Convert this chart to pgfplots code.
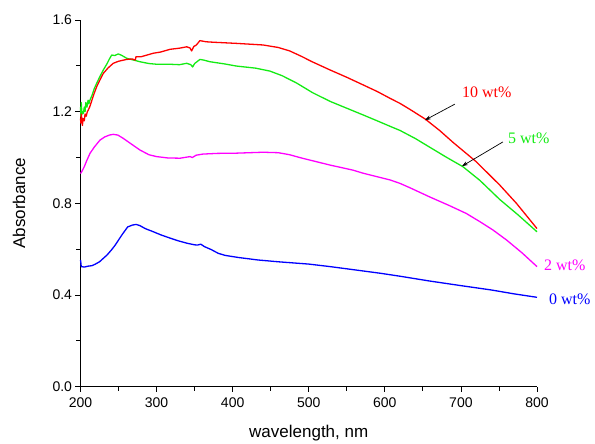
\documentclass[border=0pt]{standalone}
\usepackage{pgfplots}
\pgfplotsset{compat=1.18}
\usepackage{fontspec}
\setmainfont{Liberation Sans}
\newfontfamily\seriffont{Liberation Serif}
\usetikzlibrary{arrows.meta}
\definecolor{cgreen}{RGB}{20,235,20}
\definecolor{cmag}{RGB}{255,0,255}
\definecolor{cred}{RGB}{255,0,0}
\definecolor{cblue}{RGB}{0,0,255}
\begin{document}
\begin{tikzpicture}
\path[use as bounding box] (-80.5pt,-57.3pt) rectangle (514.5pt,386.7pt);
\begin{axis}[
  at={(0pt,0pt)}, anchor=south west,
  scale only axis, width=456.5pt, height=366.7pt,
  xmin=200, xmax=800, ymin=0, ymax=1.6,
  axis x line*=bottom, axis y line*=left,
  xtick={200,300,400,500,600,700,800}, minor x tick num=1,
  ytick={0,0.4,0.8,1.2,1.6}, minor y tick num=1,
  tick align=outside, major tick length=5pt, minor tick length=4pt,
  tick style={black, line width=0.8pt},
  axis line style={black, line width=0.9pt},
  /pgf/number format/assume math mode=true,
  yticklabel style={/pgf/number format/.cd, fixed, fixed zerofill, precision=1},
  tick label style={font=\fontsize{14}{16}\selectfont},
  xticklabel style={yshift=-2pt},
  xlabel={wavelength, nm}, ylabel={Absorbance},
  every axis x label/.style={at={([yshift=-46pt]axis description cs:0.5,0)}, anchor=center, font=\fontsize{17}{20}\selectfont},
  every axis y label/.style={at={([xshift=-61.5pt]axis description cs:0,0.5)}, anchor=center, rotate=90, font=\fontsize{17}{20}\selectfont},
  clip=false,
  every axis plot/.append style={line width=1.3pt, line join=round},
]
% 0 wt%
\addplot[cblue] coordinates {(200,0.553)(200.5,0.54)(201,0.524)(205,0.522)(210,0.526)(215,0.528)(219,0.534)(225,0.545)(230,0.56)(235,0.575)(240.5,0.596)(245,0.615)(250,0.64)(255,0.665)(262,0.697)(268,0.705)(273,0.708)(278,0.703)(285,0.69)(295,0.677)(306,0.662)(318,0.648)(328,0.637)(340,0.626)(350,0.619)(354,0.618)(358,0.622)(363,0.611)(372,0.598)(381,0.582)(390,0.573)(407,0.564)(433,0.553)(460,0.545)(500,0.535)(528,0.524)(560,0.51)(594,0.495)(620,0.482)(659,0.461)(700,0.441)(740,0.422)(770,0.405)(800,0.390)};
% 2 wt%
\addplot[cmag] coordinates {(200,0.93)(201.6,0.938)(205,0.96)(208,0.985)(212.5,1.018)(218,1.045)(225.6,1.076)(232,1.09)(238,1.098)(243,1.101)(249,1.098)(256,1.084)(265,1.063)(278,1.033)(290,1.012)(300,1.004)(315,0.998)(331,0.997)(344,1.004)(347,1.0)(352,1.01)(361,1.015)(380,1.018)(405,1.019)(440,1.023)(460,1.021)(475,1.012)(488,1.0)(500,0.99)(528,0.967)(558,0.945)(572,0.931)(607,0.902)(620,0.887)(633,0.868)(659,0.828)(685,0.79)(707,0.756)(725,0.72)(742,0.684)(760,0.64)(780,0.585)(800,0.524)};
% 5 wt%
\addplot[cgreen] coordinates {(200,1.22)(200.5,1.18)(201,1.24)(201.6,1.207)(202.5,1.19)(203.7,1.193)(205,1.22)(206,1.2)(207,1.24)(208.5,1.22)(210,1.25)(211,1.235)(212.5,1.251)(215,1.27)(218,1.30)(221.3,1.324)(225,1.35)(230,1.382)(235,1.41)(238,1.43)(241,1.447)(245,1.445)(249.7,1.452)(254,1.446)(260.7,1.433)(270,1.425)(278,1.418)(290,1.41)(300,1.407)(317,1.407)(330,1.405)(339.6,1.411)(345,1.405)(347.4,1.395)(350,1.41)(357,1.428)(362,1.425)(370,1.418)(390,1.408)(405,1.399)(430,1.39)(449,1.377)(465,1.357)(484,1.325)(505,1.283)(528,1.245)(550,1.215)(572,1.185)(590,1.16)(607,1.136)(620,1.118)(640,1.083)(659,1.045)(680,1.003)(702.6,0.96)(725,0.9)(751,0.817)(775,0.75)(800,0.676)};
% 10 wt%
\addplot[cred] coordinates {(200,1.17)(200.5,1.15)(201,1.19)(201.6,1.171)(202.5,1.14)(203.5,1.17)(205,1.16)(206,1.19)(207.5,1.18)(209,1.2)(210.2,1.207)(212,1.22)(215,1.25)(218,1.28)(221.3,1.309)(225,1.335)(230,1.367)(236,1.39)(243,1.411)(250,1.42)(260.7,1.428)(268,1.43)(272,1.425)(273,1.44)(280,1.44)(295.7,1.455)(305,1.46)(317.6,1.472)(330,1.477)(339.6,1.483)(344,1.478)(346,1.465)(349,1.485)(352,1.49)(357,1.510)(365,1.505)(374.5,1.503)(405,1.498)(440,1.491)(460,1.48)(475,1.465)(490,1.442)(505,1.417)(528,1.382)(550,1.35)(572,1.316)(590,1.288)(607,1.258)(620,1.236)(633,1.21)(653,1.168)(672,1.118)(690,1.065)(720,0.982)(751,0.88)(773,0.80)(800,0.69)};
% annotations
\draw[-{Stealth[length=6pt,width=4pt]}, line width=0.7pt] (axis cs:692.1,1.233) -- (axis cs:652.7,1.163);
\draw[-{Stealth[length=6pt,width=4pt]}, line width=0.7pt] (axis cs:755.2,1.068) -- (axis cs:701.3,0.962);
\node[anchor=west, inner sep=0pt, text=cred, font=\seriffont\fontsize{16}{18}\selectfont] at (axis cs:701.3,1.286) {10 wt\%};
\node[anchor=west, inner sep=0pt, text=cgreen, font=\seriffont\fontsize{16}{18}\selectfont] at (axis cs:761.8,1.085) {5 wt\%};
\node[anchor=west, inner sep=0pt, text=cmag, font=\seriffont\fontsize{16}{18}\selectfont] at (axis cs:809.1,0.531) {2 wt\%};
\node[anchor=west, inner sep=0pt, text=cblue, font=\seriffont\fontsize{16}{18}\selectfont] at (axis cs:815.7,0.383) {0 wt\%};
\end{axis}
\end{tikzpicture}
\end{document}
